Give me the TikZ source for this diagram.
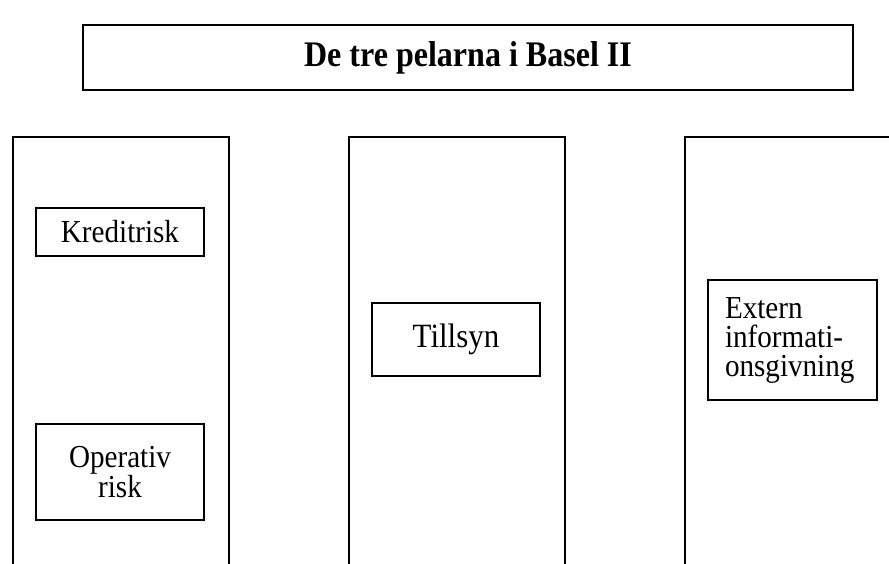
\documentclass[tikz,border=0pt]{standalone}
\usepackage{fontspec}
\setmainfont{Liberation Serif}
\newfontfamily\itemfont[FakeStretch=0.91]{Liberation Serif}
\newfontfamily\titlefont[FakeStretch=0.89]{Liberation Serif}
\begin{document}
\begin{tikzpicture}[x=1pt,y=-1pt,
  line width=1.5pt,
  pillar/.style={draw, rectangle, inner sep=0pt, anchor=north west},
  itembox/.style={draw, rectangle, inner sep=0pt, font=\itemfont\fontsize{32}{29}\selectfont},
]
\useasboundingbox (0,0) rectangle (889,563);
\clip (0,0) rectangle (889,563);
\node[draw, rectangle, inner sep=0pt, minimum width=770pt, minimum height=65pt,
      font=\titlefont\fontsize{36}{38}\selectfont\bfseries] (title) at (468,57.5) {De tre pelarna i Basel II};
\node[pillar, minimum width=216pt, minimum height=480pt] (p1) at (12,136) {};
\node[pillar, minimum width=216pt, minimum height=480pt] (p2) at (348,136) {};
\node[pillar, minimum width=216pt, minimum height=480pt] (p3) at (684,136) {};
\node[itembox, minimum width=168pt, minimum height=48pt] (kred) at (120,232) {Kreditrisk};
\node[itembox, minimum width=168pt, minimum height=96pt, align=center] (oper) at (120,472) {Operativ\\risk};
\node[itembox, minimum width=168pt, minimum height=73pt, font=\itemfont\fontsize{34}{30}\selectfont] (till) at (456,339.5) {Tillsyn};
\node[itembox, minimum width=169pt, minimum height=120pt, inner xsep=17pt, text width=135pt, align=left] (ext) at (792.5,340) {Extern\\informati-\\onsgivning};
\end{tikzpicture}
\end{document}
